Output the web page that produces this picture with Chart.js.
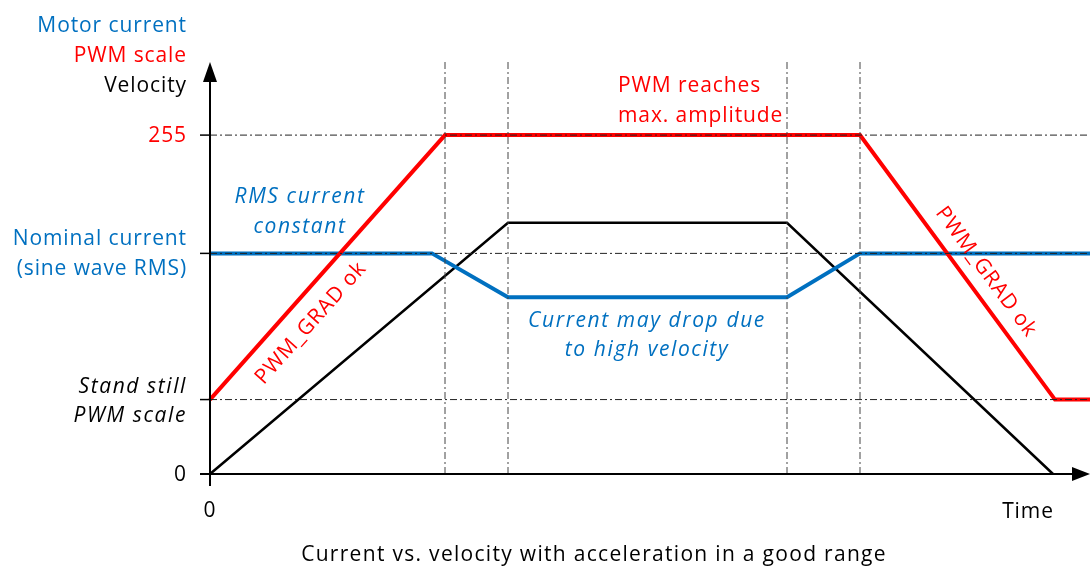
<!DOCTYPE html>
<html>
<head>
<meta charset="utf-8">
<script src="https://cdn.jsdelivr.net/npm/chart.js@4/dist/chart.umd.min.js"></script>
<style>
  html, body { margin: 0; padding: 0; background: #fff; }
  #wrap { width: 1090px; height: 569px; position: relative; }
</style>
</head>
<body>
<div id="wrap"><canvas id="chart"></canvas></div>
<script>
// values (time in arbitrary units, level in PWM steps)
const pwmTime = [0, 235, 650, 845, 880];
const pwmScale = [56, 255, 255, 56, 56];
const currentTime = [0, 222, 298, 577, 650, 880];
const motorCurrent = [166, 166, 133, 133, 166, 166];
const velocityTime = [0, 298, 577, 843];
const velocity = [0, 189, 189, 0];
const levelMarks = [255, 166, 56];     // 255, nominal current, stand still PWM
const phaseMarks = [235, 298, 577, 650];
const timeMax = 880;
const levelMax = 310;

const RED = '#ff0000';
const BLUE = '#0070c0';
const FONT = '"Open Sans", Lato, sans-serif';

const toPoints = (xs, ys) => xs.map((x, i) => ({ x, y: ys[i] }));

const refDash = [7, 3, 2, 3];
const refLines = [
  ...levelMarks.map(v => ({
    data: [{ x: 0, y: v }, { x: timeMax, y: v }],
    borderColor: '#222', borderWidth: 1, borderDash: refDash, order: 0
  })),
  ...phaseMarks.map(t => ({
    data: [{ x: t, y: 0 }, { x: t, y: levelMax }],
    borderColor: '#444', borderWidth: 1, borderDash: refDash, order: 0
  }))
];

const axesAndText = {
  id: 'axesAndText',
  afterDatasetsDraw(chart) {
    const { ctx, chartArea: a, scales: { x, y } } = chart;
    const x0 = x.getPixelForValue(0), y0 = y.getPixelForValue(0);
    ctx.save();
    ctx.strokeStyle = '#000';
    ctx.fillStyle = '#000';
    ctx.lineWidth = 2;
    // y axis
    ctx.beginPath();
    ctx.moveTo(x0, y0 + 12);
    ctx.lineTo(x0, a.top + 16);
    ctx.stroke();
    ctx.beginPath();
    ctx.moveTo(x0, a.top);
    ctx.lineTo(x0 - 7, a.top + 20);
    ctx.lineTo(x0 + 7, a.top + 20);
    ctx.closePath();
    ctx.fill();
    // x axis
    ctx.beginPath();
    ctx.moveTo(x0 - 10, y0);
    ctx.lineTo(a.right - 16, y0);
    ctx.stroke();
    ctx.beginPath();
    ctx.moveTo(a.right, y0);
    ctx.lineTo(a.right - 18, y0 - 7);
    ctx.lineTo(a.right - 18, y0 + 7);
    ctx.closePath();
    ctx.fill();
    // y ticks
    ctx.lineWidth = 1.5;
    levelMarks.forEach(v => {
      const py = y.getPixelForValue(v);
      ctx.beginPath();
      ctx.moveTo(x0 - 10, py);
      ctx.lineTo(x0, py);
      ctx.stroke();
    });

    const text = (str, px, py, color, opts = {}) => {
      ctx.save();
      ctx.font = `${opts.italic ? 'italic ' : ''}${opts.size || 21}px ${FONT}`;
      ctx.letterSpacing = (opts.spacing ?? (opts.italic ? 1.6 : 0.9)) + 'px';
      ctx.fillStyle = color;
      ctx.textAlign = opts.align || 'right';
      ctx.textBaseline = opts.baseline || 'alphabetic';
      ctx.translate(px, py);
      if (opts.rot) ctx.rotate(opts.rot);
      ctx.fillText(str, 0, 0);
      ctx.restore();
    };
    const lx = x0 - 23;
    text('Motor current', lx, 32, BLUE);
    text('PWM scale', lx, 62, RED);
    text('Velocity', lx, 92, '#000');
    text('255', lx, y.getPixelForValue(255) + 7, RED);
    text('Nominal current', lx, y.getPixelForValue(166) - 8, BLUE);
    text('(sine wave RMS)', lx, y.getPixelForValue(166) + 22, BLUE);
    text('Stand still', lx, y.getPixelForValue(56) - 7, '#000', { italic: true });
    text('PWM scale', lx, y.getPixelForValue(56) + 22, '#000', { italic: true });
    text('0', lx, y0 + 7, '#000');
    text('0', x0, 517, '#000', { align: 'center' });
    text('Time', 1028, 518, '#000', { align: 'center' });
    text('Current vs. velocity with acceleration in a good range', 594, 561, '#000', { align: 'center', spacing: 1.3 });

    text('PWM reaches', 618, 92, RED, { align: 'left' });
    text('max. amplitude', 618, 122, RED, { align: 'left' });
    text('RMS current', 300, 203, BLUE, { align: 'center', italic: true });
    text('constant', 300, 233, BLUE, { align: 'center', italic: true });
    text('Current may drop due', 647, 327, BLUE, { align: 'center', italic: true });
    text('to high velocity', 647, 356, BLUE, { align: 'center', italic: true });

    const riseAng = Math.atan2(y.getPixelForValue(255) - y.getPixelForValue(56), x.getPixelForValue(235) - x0);
    const fallAng = Math.atan2(y.getPixelForValue(56) - y.getPixelForValue(255), x.getPixelForValue(845) - x.getPixelForValue(650));
    text('PWM_GRAD ok', 311, 323, RED, { align: 'center', baseline: 'middle', rot: riseAng });
    text('PWM_GRAD ok', 986, 272, RED, { align: 'center', baseline: 'middle', rot: fallAng });
    ctx.restore();
  }
};

new Chart(document.getElementById('chart'), {
  type: 'line',
  data: {
    datasets: [
      ...refLines,
      { data: toPoints(velocityTime, velocity), borderColor: '#000', borderWidth: 2.5, order: 3 },
      { data: toPoints(currentTime, motorCurrent), borderColor: BLUE, borderWidth: 4, order: 2 },
      { data: toPoints(pwmTime, pwmScale), borderColor: RED, borderWidth: 4, order: 1 }
    ]
  },
  options: {
    responsive: true,
    maintainAspectRatio: false,
    animation: false,
    layout: { padding: { left: 210, right: 0, top: 62, bottom: 95 } },
    elements: { point: { radius: 0 }, line: { tension: 0, borderJoinStyle: 'miter', fill: false } },
    datasets: { line: { clip: false } },
    scales: {
      x: { type: 'linear', min: 0, max: timeMax, display: false },
      y: { type: 'linear', min: 0, max: levelMax, display: false }
    },
    plugins: { legend: { display: false }, tooltip: { enabled: false } }
  },
  plugins: [axesAndText]
});
</script>
</body>
</html>
